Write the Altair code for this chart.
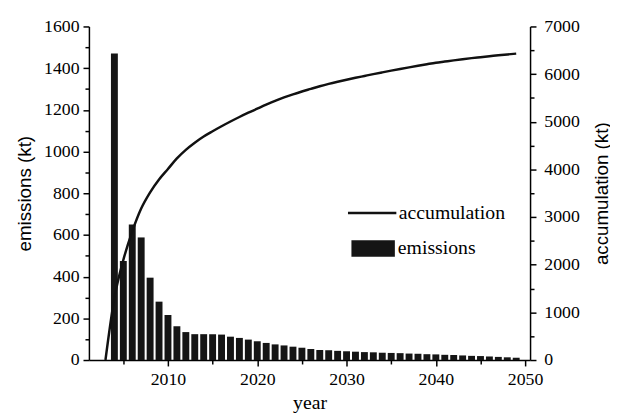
import altair as alt
import pandas as pd

# ---- data ----
bar_years = list(range(2004, 2050))
emissions = [1470, 475, 650, 588, 395, 280, 216, 162, 134, 124,
             124, 124, 122, 112, 106, 98, 90, 82, 75, 70,
             64, 59, 53, 48, 47, 44, 42, 40, 38, 37,
             35, 34, 33, 31, 30, 28, 27, 25, 24, 22,
             20, 19, 17, 15, 13, 11]

line_years = list(range(2003, 2050))
accumulation = [0, 1300, 2100, 2700, 3180, 3520, 3790, 4010, 4230, 4410,
                4560, 4690, 4800, 4905, 5005, 5100, 5190, 5275, 5360, 5440,
                5510, 5575, 5635, 5690, 5745, 5795, 5840, 5882, 5922, 5961,
                6000, 6037, 6073, 6108, 6142, 6175, 6207, 6238, 6263, 6288,
                6312, 6335, 6355, 6375, 6395, 6413, 6430]

left_ticks = list(range(0, 1601, 100))
right_ticks = list(range(0, 7001, 500))
x_ticks = list(range(2005, 2051, 5))

bars_df = pd.DataFrame({"year": bar_years, "emissions": emissions, "series": "emissions"})
line_df = pd.DataFrame({"year": line_years, "accumulation": accumulation, "series": "accumulation"})

SERIF = "Liberation Serif"
SANS = "Liberation Sans"

x_enc = alt.X(
    "year:Q",
    scale=alt.Scale(domain=[2001.7, 2050], nice=False, zero=False),
    axis=alt.Axis(
        values=x_ticks, format="d",
        labelExpr="datum.value % 10 === 0 ? datum.label : ''",
        tickSize={"condition": {"test": "datum.value % 10 === 0", "value": 6}, "value": 4},
        title="year", titleFont=SERIF, titleFontSize=20, titleFontWeight="normal",
        titlePadding=4, labelPadding=5,
        domainColor="black", domainWidth=1.5, tickColor="black", tickWidth=1.5,
        grid=False, labelFlush=False, labelOverlap=False,
    ),
)

bars = alt.Chart(bars_df).mark_bar(size=7).encode(
    x=x_enc,
    y=alt.Y(
        "emissions:Q",
        scale=alt.Scale(domain=[0, 1600], nice=False),
        axis=alt.Axis(
            values=left_ticks, orient="left", format="d",
            labelExpr="datum.value % 200 === 0 ? datum.label : ''",
            tickSize={"condition": {"test": "datum.value % 200 === 0", "value": 6}, "value": 4},
            title="emissions (kt)", titleFont=SANS, titleFontSize=19, titleFontWeight="normal",
            titlePadding=9, labelPadding=4,
            domainColor="black", domainWidth=1.5, tickColor="black", tickWidth=1.5,
            grid=False, labelOverlap=False, labelFlush=False,
        ),
    ),
    fill=alt.Fill(
        "series:N",
        scale=alt.Scale(domain=["emissions"], range=["#151515"]),
        legend=alt.Legend(
            orient="none", legendX=266, legendY=203, title=None,
            symbolType="M-1,-0.38H1V0.38H-1Z", symbolSize=1936, symbolStrokeWidth=0,
            labelFont=SERIF, labelFontSize=20, labelColor="black", labelOffset=3, padding=0,
        ),
    ),
)

line = alt.Chart(line_df).mark_line(strokeWidth=2.5, interpolate="monotone").encode(
    x=x_enc,
    y=alt.Y(
        "accumulation:Q",
        scale=alt.Scale(domain=[0, 7000], nice=False),
        axis=alt.Axis(
            values=right_ticks, orient="right", format="d",
            labelExpr="datum.value % 1000 === 0 ? datum.label : ''",
            tickSize={"condition": {"test": "datum.value % 1000 === 0", "value": 6}, "value": 4},
            title="accumulation (kt)", titleFont=SANS, titleFontSize=19, titleFontWeight="normal",
            titleAngle=270, titleBaseline="bottom", titlePadding=32, labelPadding=8,
            domainColor="black", domainWidth=1.5, tickColor="black", tickWidth=1.5,
            grid=False, labelOverlap=False, labelFlush=False,
        ),
    ),
    stroke=alt.Stroke(
        "series:N",
        scale=alt.Scale(domain=["accumulation"], range=["#111111"]),
        legend=alt.Legend(
            orient="none", legendX=261, legendY=163, title=None,
            symbolType="stroke", symbolSize=2401, symbolStrokeWidth=2.5,
            labelFont=SERIF, labelFontSize=20, labelColor="black", labelOffset=1, padding=0,
        ),
    ),
)

chart = alt.layer(bars, line).resolve_scale(
    y="independent", fill="independent", stroke="independent"
).properties(
    width=447, height=338,
    autosize=alt.AutoSizeParams(type="none"),
    padding={"left": 82, "top": 16, "right": 81, "bottom": 53},
    background="white",
).configure(font=SERIF).configure_view(stroke=None).configure_axis(
    labelFont=SERIF, labelFontSize=18, labelColor="black"
)

chart.save("out.html", embed_options={"renderer": "svg", "actions": False})
